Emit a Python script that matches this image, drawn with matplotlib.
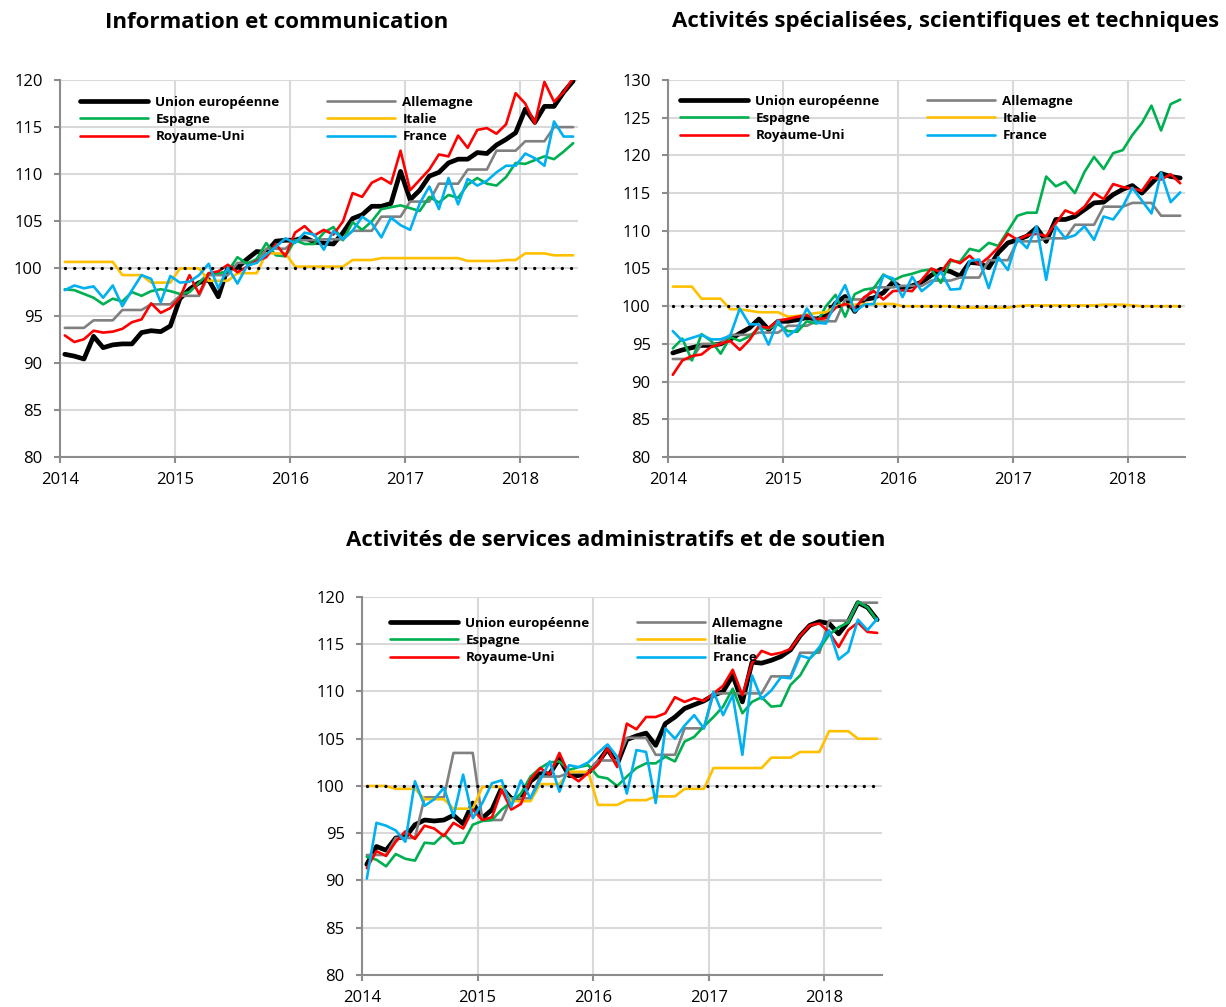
import numpy as np
import matplotlib
matplotlib.use("Agg")
import matplotlib.pyplot as plt

plt.rcParams['font.family'] = ['Open Sans', 'DejaVu Sans']

# ------------------------------------------------------------
# data: monthly index (2015 = 100), Jan 2014 .. Jun 2018
# ------------------------------------------------------------
n_months = 54
start_year = 2014
years = [2014, 2015, 2016, 2017, 2018]
base = 100

series_names = ["Union européenne", "Allemagne", "Espagne", "Italie", "Royaume-Uni", "France"]
series_colors = ["#000000", "#808080", "#00b050", "#ffc000", "#ff0000", "#00b0f0"]

titles = ["Information et communication",
          "Activités spécialisées, scientifiques et techniques",
          "Activités de services administratifs et de soutien"]

# Information et communication
ic_ue = [90.9, 90.7, 90.4, 92.8, 91.6, 91.9, 92.0, 92.0, 93.2, 93.4, 93.3, 93.9,
         96.8, 97.8, 98.5, 98.8, 97.0, 100.1, 100.1, 101.0, 101.8, 101.7, 102.9, 103.0,
         103.0, 103.3, 102.8, 102.7, 102.6, 103.8, 105.3, 105.7, 106.6, 106.6, 106.9, 110.3,
         107.3, 108.3, 109.8, 110.2, 111.2, 111.6, 111.6, 112.3, 112.2, 113.1, 113.7, 114.4,
         116.9, 115.5, 117.2, 117.2, 118.7, 119.9]
ic_de = [93.7, 93.7, 93.7, 94.5, 94.5, 94.5, 95.6, 95.6, 95.6, 96.2, 96.2, 96.2,
         97.1, 97.1, 97.1, 99.3, 99.3, 99.3, 100.6, 100.6, 100.6, 102.1, 102.1, 102.1,
         103.0, 103.0, 103.0, 103.1, 103.1, 103.1, 104.0, 104.0, 104.0, 105.5, 105.5, 105.5,
         107.1, 107.1, 107.1, 109.0, 109.0, 109.0, 110.5, 110.5, 110.5, 112.5, 112.5, 112.5,
         113.5, 113.5, 113.5, 115.0, 115.0, 115.0]
ic_es = [97.8, 97.7, 97.3, 96.9, 96.2, 96.8, 96.5, 97.5, 97.1, 97.6, 97.8, 97.6,
         97.3, 97.5, 98.5, 99.5, 99.5, 99.7, 101.2, 100.5, 101.0, 102.7, 101.4, 101.3,
         103.0, 102.6, 102.6, 103.8, 104.4, 103.0, 104.9, 104.1, 105.0, 106.3, 106.5, 106.7,
         106.4, 106.1, 107.6, 107.0, 107.8, 107.5, 108.9, 109.6, 109.0, 108.8, 109.7, 111.2,
         111.1, 111.5, 111.9, 111.6, 112.4, 113.3]
ic_it = [100.7, 100.7, 100.7, 100.7, 100.7, 100.7, 99.3, 99.3, 99.3, 98.5, 98.5, 98.5,
         100.0, 100.0, 100.0, 98.7, 98.7, 98.7, 99.5, 99.5, 99.5, 101.6, 101.6, 101.6,
         100.2, 100.2, 100.2, 100.2, 100.2, 100.2, 100.9, 100.9, 100.9, 101.1, 101.1, 101.1,
         101.1, 101.1, 101.1, 101.1, 101.1, 101.1, 100.8, 100.8, 100.8, 100.8, 100.9, 100.9,
         101.6, 101.6, 101.6, 101.4, 101.4, 101.4]
ic_uk = [92.9, 92.2, 92.5, 93.4, 93.2, 93.3, 93.6, 94.3, 94.6, 96.3, 95.3, 95.8,
         96.9, 99.3, 97.3, 99.5, 99.7, 100.4, 99.6, 100.2, 100.8, 101.2, 102.6, 101.3,
         103.8, 104.5, 103.5, 104.1, 103.6, 105.0, 108.0, 107.6, 109.1, 109.6, 109.0, 112.5,
         108.3, 109.4, 110.5, 112.1, 111.9, 114.1, 112.8, 114.7, 114.9, 114.3, 115.3, 118.6,
         117.5, 115.4, 119.8, 117.7, 118.7, 120.2]
ic_fr = [97.7, 98.2, 97.9, 98.1, 96.9, 98.2, 96.0, 97.7, 99.3, 98.9, 96.4, 99.2,
         98.5, 98.6, 99.3, 100.5, 97.9, 100.1, 98.4, 100.3, 100.6, 101.5, 102.3, 103.2,
         102.7, 103.8, 103.6, 102.0, 104.0, 103.1, 104.0, 105.5, 104.8, 103.3, 105.4, 104.6,
         104.1, 106.9, 108.7, 106.3, 109.6, 106.8, 109.5, 108.8, 109.3, 110.2, 110.9, 110.9,
         112.2, 111.7, 110.9, 115.6, 114.0, 114.0]

# Activités spécialisées, scientifiques et techniques
sst_ue = [93.8, 94.2, 94.5, 94.8, 94.8, 95.0, 95.6, 96.4, 97.1, 98.3, 96.9, 98.0,
          98.0, 98.2, 98.5, 98.3, 98.7, 100.4, 101.3, 99.3, 100.9, 101.1, 101.8, 103.2,
          102.3, 102.7, 103.2, 104.1, 104.9, 104.6, 104.0, 105.8, 105.7, 105.1, 107.1, 108.4,
          108.8, 109.3, 110.4, 108.6, 111.5, 111.5, 111.9, 112.8, 113.7, 113.8, 114.8, 115.5,
          116.0, 115.0, 116.3, 117.6, 117.2, 117.0]
sst_de = [93.0, 93.0, 93.0, 95.0, 95.0, 95.0, 96.2, 96.2, 96.2, 96.5, 96.5, 96.5,
          97.4, 97.4, 97.4, 98.0, 98.0, 98.0, 100.9, 100.9, 100.9, 102.5, 102.5, 102.5,
          102.7, 102.7, 102.7, 103.4, 103.4, 103.4, 103.8, 103.8, 103.8, 106.1, 106.1, 106.1,
          108.6, 108.6, 108.6, 109.0, 109.0, 109.0, 110.8, 110.8, 110.8, 113.2, 113.2, 113.2,
          113.7, 113.7, 113.7, 112.0, 112.0, 112.0]
sst_es = [94.4, 95.7, 92.8, 96.3, 95.4, 93.7, 95.9, 95.4, 96.0, 97.1, 97.0, 97.6,
          96.7, 96.6, 98.0, 97.7, 100.0, 101.5, 98.6, 101.6, 102.2, 102.4, 104.2, 103.4,
          104.0, 104.3, 104.7, 104.9, 103.1, 106.0, 105.9, 107.6, 107.3, 108.4, 108.0, 110.0,
          112.0, 112.4, 112.4, 117.2, 115.9, 116.5, 115.0, 117.8, 119.8, 118.2, 120.3, 120.7,
          122.7, 124.3, 126.6, 123.3, 126.8, 127.4]
sst_it = [102.6, 102.6, 102.6, 101.0, 101.0, 101.0, 99.6, 99.6, 99.4, 99.2, 99.2, 99.2,
          98.6, 98.7, 98.9, 99.1, 99.2, 100.0, 100.2, 100.2, 100.3, 100.3, 100.3, 100.3,
          100.0, 100.0, 100.0, 100.0, 100.0, 100.0, 99.8, 99.8, 99.8, 99.8, 99.8, 99.8,
          100.0, 100.1, 100.1, 100.1, 100.1, 100.1, 100.1, 100.1, 100.1, 100.2, 100.2, 100.2,
          100.1, 100.0, 100.0, 100.0, 100.0, 100.0]
sst_uk = [90.9, 92.8, 93.4, 93.6, 94.6, 95.0, 95.4, 94.2, 95.5, 97.4, 97.1, 98.1,
          98.3, 98.6, 98.8, 98.3, 98.4, 99.8, 100.3, 99.7, 101.2, 102.0, 100.9, 102.0,
          102.1, 102.0, 103.5, 105.0, 104.5, 106.2, 105.7, 106.7, 105.5, 106.5, 107.8, 109.6,
          108.8, 109.4, 109.6, 109.3, 111.0, 112.7, 112.2, 113.2, 115.0, 114.2, 116.2, 115.8,
          115.6, 115.3, 117.1, 116.8, 117.5, 116.3]
sst_fr = [96.7, 95.4, 95.8, 96.2, 95.6, 95.6, 96.1, 99.7, 97.6, 97.6, 94.9, 98.1,
          96.0, 97.0, 99.7, 97.8, 97.7, 100.5, 102.8, 99.3, 100.2, 100.3, 104.1, 103.7,
          101.2, 103.9, 102.0, 103.0, 104.6, 102.2, 102.3, 106.0, 106.2, 102.4, 106.5, 104.8,
          109.0, 107.7, 110.6, 103.5, 110.6, 109.0, 109.4, 110.6, 108.8, 111.9, 111.5, 113.2,
          115.7, 114.0, 112.3, 117.7, 113.8, 115.1]

# Activités de services administratifs et de soutien
adm_ue = [91.7, 93.6, 93.2, 94.5, 94.6, 95.9, 96.4, 96.3, 96.4, 96.9, 96.0, 98.2,
          96.6, 97.5, 99.8, 98.7, 98.5, 100.5, 101.3, 101.3, 102.9, 101.1, 101.1, 101.4,
          102.5, 103.9, 102.3, 104.9, 105.3, 105.6, 104.3, 106.6, 107.3, 108.2, 108.6, 109.0,
          109.6, 110.0, 111.7, 108.9, 113.1, 113.0, 113.3, 113.7, 114.4, 115.9, 117.0, 117.4,
          117.2, 116.1, 117.4, 119.4, 118.9, 117.6]
adm_de = [92.7, 92.7, 92.7, 94.5, 94.5, 94.5, 98.8, 98.8, 98.8, 103.5, 103.5, 103.5,
          96.4, 96.4, 96.4, 98.7, 98.7, 98.7, 101.0, 101.0, 101.0, 101.4, 101.4, 101.4,
          102.7, 102.7, 102.7, 105.1, 105.1, 105.1, 103.3, 103.3, 103.3, 106.1, 106.1, 106.1,
          109.8, 109.8, 109.8, 109.8, 109.8, 109.8, 111.6, 111.6, 111.6, 114.1, 114.1, 114.1,
          117.5, 117.5, 117.5, 119.4, 119.4, 119.4]
adm_es = [92.5, 92.2, 91.5, 92.8, 92.3, 92.1, 94.0, 93.9, 94.9, 93.9, 94.0, 95.9,
          96.3, 96.4, 97.5, 98.3, 99.2, 101.0, 101.9, 102.5, 102.6, 101.7, 102.0, 102.2,
          101.0, 100.8, 100.0, 101.0, 101.9, 102.4, 102.4, 103.1, 102.6, 104.7, 105.2, 106.3,
          107.3, 108.4, 110.3, 107.7, 108.9, 109.4, 108.4, 108.5, 110.7, 111.7, 113.5, 114.5,
          116.0, 116.8, 117.3, 119.5, 118.9, 117.5]
adm_it = [100.0, 100.0, 100.0, 99.7, 99.7, 99.7, 98.6, 98.6, 98.6, 97.6, 97.6, 97.6,
          99.9, 99.9, 99.9, 98.4, 98.4, 98.4, 100.2, 100.2, 100.2, 101.5, 101.5, 101.5,
          98.0, 98.0, 98.0, 98.5, 98.5, 98.5, 98.9, 98.9, 98.9, 99.7, 99.7, 99.7,
          101.9, 101.9, 101.9, 101.9, 101.9, 101.9, 103.0, 103.0, 103.0, 103.6, 103.6, 103.6,
          105.8, 105.8, 105.8, 105.0, 105.0, 105.0]
adm_uk = [91.3, 93.1, 92.6, 94.1, 95.2, 94.4, 95.8, 95.5, 94.7, 96.1, 95.5, 97.5,
          96.4, 96.7, 99.6, 97.5, 98.1, 100.7, 101.9, 101.2, 103.5, 101.2, 100.5, 101.4,
          102.3, 104.0, 102.0, 106.6, 106.0, 107.3, 107.3, 107.7, 109.4, 108.9, 109.3, 109.0,
          109.8, 110.6, 112.3, 109.6, 113.0, 114.3, 113.9, 114.1, 114.5, 115.9, 117.0, 117.2,
          116.3, 114.7, 116.5, 117.3, 116.3, 116.2]
adm_fr = [90.2, 96.1, 95.8, 95.3, 94.1, 100.5, 97.9, 98.6, 99.8, 96.8, 101.2, 96.6,
          98.2, 100.3, 100.6, 97.8, 100.6, 98.7, 100.6, 102.6, 99.4, 102.2, 102.0, 102.5,
          103.5, 104.4, 103.1, 99.2, 103.8, 103.6, 98.2, 106.1, 105.0, 106.4, 107.5, 106.1,
          110.0, 107.5, 109.6, 103.3, 111.7, 109.2, 110.1, 111.5, 111.4, 113.8, 113.5, 114.7,
          116.5, 113.4, 114.2, 117.6, 116.5, 117.7]

panels = [
    (titles[0], [ic_ue, ic_de, ic_es, ic_it, ic_uk, ic_fr], (80, 120)),
    (titles[1], [sst_ue, sst_de, sst_es, sst_it, sst_uk, sst_fr], (80, 130)),
    (titles[2], [adm_ue, adm_de, adm_es, adm_it, adm_uk, adm_fr], (80, 120)),
]

# ------------------------------------------------------------
# layout (pixel boxes of the three plot areas)
# ------------------------------------------------------------
W, H = 1226, 1007
boxes = [(60, 80, 578, 457), (668, 80, 1185, 457), (362, 597, 882, 975)]
title_pos = [(277, 22), (946, 22), (616, 541)]
legend_pos = [(20, 16), (12, 15), (28, 20)]

GRID = "#d9d9d9"
AXIS = "#8c8c8c"

fig = plt.figure(figsize=(W / 100, H / 100), dpi=100)
x = start_year + (np.arange(n_months) + 0.5) / 12

for (title, data, ylim), box, tpos, lpos in zip(panels, boxes, title_pos, legend_pos):
    l, t, r, b = box
    ax = fig.add_axes([l / W, 1 - b / H, (r - l) / W, (b - t) / H])

    lines = []
    for name, color, values in zip(series_names, series_colors, data):
        lw = 3.4 if name == "Union européenne" else 1.9
        ln, = ax.plot(x, values, color=color, lw=lw, label=name,
                      solid_joinstyle="round", solid_capstyle="round")
        lines.append(ln)

    # reference line at 100 (dotted)
    ax.plot(x, np.full(n_months, base), color="black", lw=2.4,
            linestyle=(0, (0.01, 2.75)), dash_capstyle="round", zorder=5)

    ax.set_xlim(start_year, start_year + n_months / 12)
    ax.set_ylim(*ylim)
    ax.set_xticks(years)
    ax.set_xticklabels([str(y) for y in years])
    ax.set_yticks(np.arange(ylim[0], ylim[1] + 1, 5))

    ax.grid(True, color=GRID, lw=1.5)
    ax.set_axisbelow(True)
    for side in ["top", "right"]:
        ax.spines[side].set_visible(False)
    for side in ["left", "bottom"]:
        ax.spines[side].set_color(AXIS)
        ax.spines[side].set_linewidth(1.5)
    ax.tick_params(axis="y", length=4.5, width=1.5, color=AXIS, pad=8, labelsize=12)
    ax.tick_params(axis="x", length=4.5, width=1.5, color=AXIS, pad=6, labelsize=12)

    # two-column legend, drawn as two separate legends for exact placement
    pw, ph = r - l, b - t
    col_gap = 247
    kw = dict(loc="upper left", frameon=False, borderpad=0, borderaxespad=0,
              handlelength=5.1, handletextpad=0.55, labelspacing=0.31,
              prop={"weight": "bold", "size": 9.6})
    order1 = [0, 2, 4]
    order2 = [1, 3, 5]
    leg1 = ax.legend([lines[i] for i in order1], [series_names[i] for i in order1],
                     bbox_to_anchor=(lpos[0] / pw, 1 - lpos[1] / ph), **kw)
    ax.add_artist(leg1)
    ax.legend([lines[i] for i in order2], [series_names[i] for i in order2],
              bbox_to_anchor=((lpos[0] + col_gap) / pw, 1 - lpos[1] / ph), **kw)

    fig.text(tpos[0] / W, 1 - tpos[1] / H, title, ha="center", va="center",
             fontsize=16, fontweight="bold")

fig.savefig("out.png", dpi=100)
